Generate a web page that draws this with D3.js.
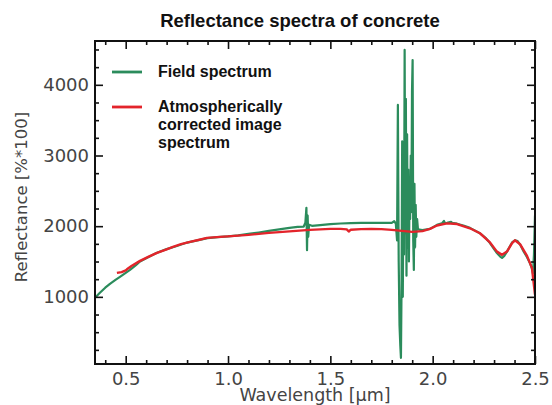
<!DOCTYPE html>
<html>
<head>
<meta charset="utf-8">
<script src="https://cdn.jsdelivr.net/npm/d3@7"></script>
<style>
html,body{margin:0;padding:0;background:#fff;}
svg{display:block;}
</style>
</head>
<body>
<svg id="chart" width="552" height="405"></svg>
<script>
// ---- Data ----
const fieldWavelength = [
  0.350,0.374,0.400,0.423,0.450,0.472,0.500,0.521,0.550,0.570,0.600,0.650,0.700,0.750,0.800,0.850,0.900,0.950,
  1.000,1.050,1.100,1.150,1.200,1.250,1.300,1.340,1.370,1.378,1.383,1.386,1.389,1.392,1.396,1.410,1.450,1.500,
  1.550,1.600,1.650,1.700,1.750,1.800,1.812,1.820,
  1.826,1.830,1.834,1.838,1.842,1.845,1.848,1.851,1.854,1.857,1.860,1.863,1.866,1.869,1.872,1.875,1.878,1.881,
  1.884,1.887,1.890,1.893,1.896,1.899,1.902,1.905,1.908,1.911,1.914,1.917,1.920,1.924,1.928,
  1.935,1.950,1.987,2.021,2.045,2.055,2.060,2.070,2.090,2.095,2.119,2.150,2.182,2.231,2.260,2.280,2.300,2.314,
  2.330,2.339,2.350,2.363,2.388,2.402,2.415,2.427,2.445,2.461,2.475,2.485,2.490,2.495,2.500
];
const fieldReflectance = [
  986,1057,1130,1184,1240,1283,1340,1382,1450,1500,1545,1620,1675,1720,1768,1800,1830,1845,
  1855,1870,1890,1910,1933,1955,1976,1990,1995,2050,2260,1660,2150,1850,2020,2005,2015,2028,
  2038,2044,2047,2048,2048,2047,2070,2035,
  1800,3716,1500,600,300,137,1200,3200,1000,2600,1600,4494,1900,3800,1300,3300,1700,2800,
  1500,2500,2100,3000,2200,3900,4350,1800,1380,2600,1700,2300,1850,2100,1960,
  1950,1945,1962,2018,2040,2075,2045,2047,2060,2047,2035,2010,1976,1900,1830,1760,1675,1620,
  1570,1551,1580,1640,1770,1800,1790,1740,1640,1560,1480,1400,1330,1600,2150
];
const imageWavelength = [
  0.457,0.480,0.500,0.506,0.530,0.570,0.610,0.653,0.700,0.731,0.770,0.814,0.860,0.897,0.961,
  1.000,1.100,1.200,1.300,1.400,1.500,1.550,1.580,1.590,1.600,1.650,1.700,1.750,1.800,1.850,1.900,1.950,
  1.987,2.021,2.070,2.119,2.182,2.231,2.280,2.314,2.339,2.363,2.388,2.402,2.427,2.461,2.485,2.500
];
const imageReflectance = [
  1339,1350,1375,1390,1440,1509,1565,1622,1672,1707,1745,1778,1808,1834,1849,
  1856,1877,1905,1926,1948,1962,1962,1955,1925,1950,1958,1962,1958,1948,1934,1920,1930,
  1962,2010,2040,2030,1970,1900,1770,1640,1594,1640,1760,1800,1745,1580,1410,1030
];
const xMajorTicks = [0.5, 1.0, 1.5, 2.0, 2.5];
const xTickLabels = ["0.5", "1.0", "1.5", "2.0", "2.5"];
const yMajorTicks = [1000, 2000, 3000, 4000];
const yTickLabels = ["1000", "2000", "3000", "4000"];
const legendLabels = [["Field spectrum"], ["Atmospherically", "corrected image", "spectrum"]];
const seriesColors = ["#2b8c5c", "#e3242b"];

// ---- Layout ----
const svg = d3.select("#chart");
const L = 95, R = 535, T = 41, B = 364;
const x = d3.scaleLinear().domain([0.35, 2.5]).range([L, R]);
const y = d3.scaleLinear().domain([50, 4620]).range([B, T]);

const xMinor = d3.range(4, 26).map(d => d / 10).filter(d => !xMajorTicks.some(m => Math.abs(m - d) < 1e-6));
const yMinor = d3.range(250, 4620, 250).filter(d => d % 1000 !== 0);

const font = "'DejaVu Sans', sans-serif";

// Title
svg.append("text").attr("x", 300).attr("y", 27).attr("text-anchor", "middle")
  .attr("font-family", "'Liberation Sans', Arial, sans-serif").attr("font-weight", "bold")
  .attr("font-size", 18.5).attr("fill", "#111").text("Reflectance spectra of concrete");

// Lines (clipped to frame)
svg.append("clipPath").attr("id", "clip").append("rect")
  .attr("x", L).attr("y", T).attr("width", R - L).attr("height", B - T);
const line = d3.line().x(d => x(d[0])).y(d => y(d[1]));
const g = svg.append("g").attr("clip-path", "url(#clip)");
g.append("path").datum(d3.zip(fieldWavelength, fieldReflectance))
  .attr("d", line).attr("fill", "none").attr("stroke", seriesColors[0])
  .attr("stroke-width", 2.2).attr("stroke-linejoin", "round");
g.append("path").datum(d3.zip(imageWavelength, imageReflectance))
  .attr("d", line).attr("fill", "none").attr("stroke", seriesColors[1])
  .attr("stroke-width", 2.4).attr("stroke-linejoin", "round");

// Axes with inward ticks on all four sides
function styleAxis(sel) {
  sel.select(".domain").remove();
  sel.selectAll("line").attr("stroke", "#111").attr("stroke-width", 1.6);
}
const tickFontSize = 18;
// bottom
svg.append("g").attr("transform", `translate(0,${B})`)
  .call(d3.axisBottom(x).tickValues(xMajorTicks).tickSize(-8).tickPadding(8)
    .tickFormat((d, i) => xTickLabels[i]))
  .call(styleAxis)
  .call(s => s.selectAll("text").attr("font-family", font).attr("font-size", tickFontSize).attr("fill", "#444"));
svg.append("g").attr("transform", `translate(0,${B})`)
  .call(d3.axisBottom(x).tickValues(xMinor).tickSize(-4).tickFormat(""))
  .call(styleAxis);
// top
svg.append("g").attr("transform", `translate(0,${T})`)
  .call(d3.axisTop(x).tickValues(xMajorTicks).tickSize(-8).tickFormat(""))
  .call(styleAxis);
svg.append("g").attr("transform", `translate(0,${T})`)
  .call(d3.axisTop(x).tickValues(xMinor).tickSize(-4).tickFormat(""))
  .call(styleAxis);
// left
svg.append("g").attr("transform", `translate(${L},0)`)
  .call(d3.axisLeft(y).tickValues(yMajorTicks).tickSize(-8).tickPadding(6)
    .tickFormat((d, i) => yTickLabels[i]))
  .call(styleAxis)
  .call(s => s.selectAll("text").attr("font-family", font).attr("font-size", tickFontSize).attr("fill", "#444"));
svg.append("g").attr("transform", `translate(${L},0)`)
  .call(d3.axisLeft(y).tickValues(yMinor).tickSize(-4).tickFormat(""))
  .call(styleAxis);
// right
svg.append("g").attr("transform", `translate(${R},0)`)
  .call(d3.axisRight(y).tickValues(yMajorTicks).tickSize(-8).tickFormat(""))
  .call(styleAxis);
svg.append("g").attr("transform", `translate(${R},0)`)
  .call(d3.axisRight(y).tickValues(yMinor).tickSize(-4).tickFormat(""))
  .call(styleAxis);

// Frame
svg.append("rect").attr("x", L).attr("y", T).attr("width", R - L).attr("height", B - T)
  .attr("fill", "none").attr("stroke", "#111").attr("stroke-width", 2);

// Axis titles
svg.append("text").attr("x", 315).attr("y", 401).attr("text-anchor", "middle")
  .attr("font-family", font).attr("font-size", 17.5).attr("fill", "#444")
  .text("Wavelength [\u03bcm]");
svg.append("text").attr("transform", "translate(27,197) rotate(-90)").attr("text-anchor", "middle")
  .attr("font-family", font).attr("font-size", 16.5).attr("fill", "#444")
  .text("Reflectance [%*100]");

// Legend
const legendY = [72, 107];
const legendFont = "'Liberation Sans', Arial, sans-serif";
legendLabels.forEach((lines, i) => {
  svg.append("line").attr("x1", 112).attr("x2", 142).attr("y1", legendY[i]).attr("y2", legendY[i])
    .attr("stroke", seriesColors[i]).attr("stroke-width", 2.8);
  lines.forEach((t, j) => {
    svg.append("text").attr("x", 158).attr("y", legendY[i] + 5 + j * 18)
      .attr("font-family", legendFont).attr("font-weight", "bold").attr("font-size", 16)
      .attr("fill", "#111").text(t);
  });
});
</script>
</body>
</html>
